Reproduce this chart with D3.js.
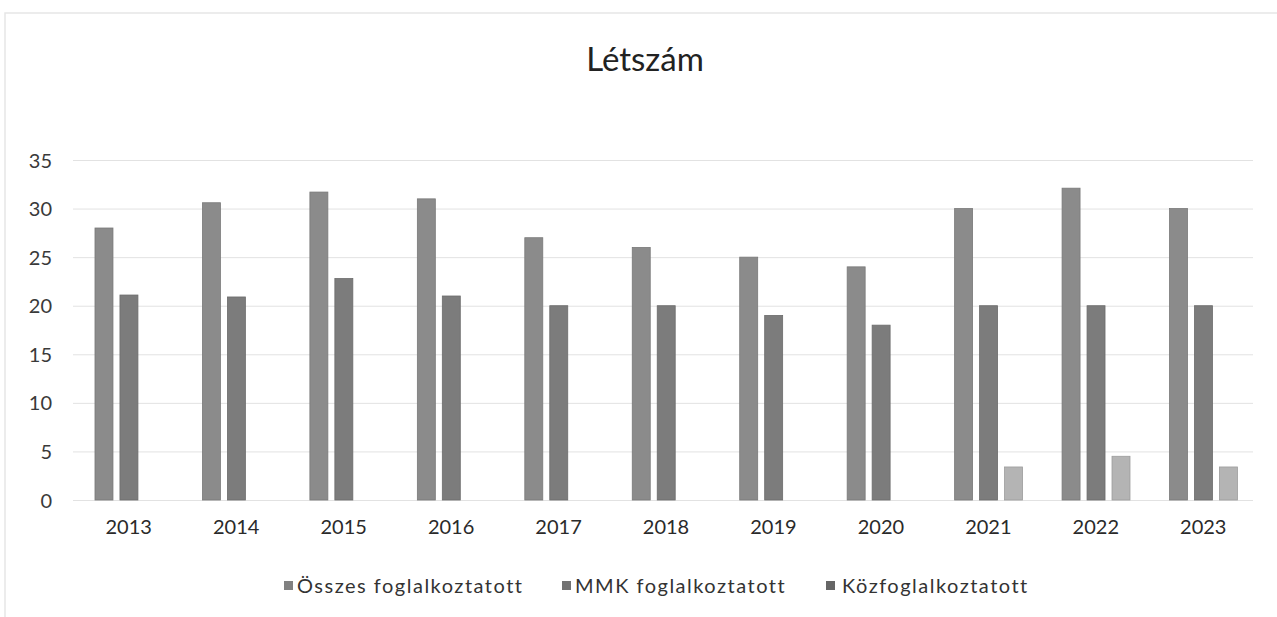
<!DOCTYPE html>
<html>
<head>
<meta charset="utf-8">
<script src="https://cdn.jsdelivr.net/npm/d3@7"></script>
<style>
	html, body { margin: 0; padding: 0; background: #fff; }
	svg { display: block; font-family: Lato, Carlito, 'Open Sans', sans-serif; }
	.tick_y { stroke: #e2e2e2; stroke-width: 1; }
	.tick_txt { fill: #3a3a3a; font-size: 20px; }
	.x_txt { fill: #2a2a2a; font-size: 20px; }
	.legend_txt { fill: #333; font-size: 20px; letter-spacing: 1.5px; }
</style>
</head>
<body>
<div id="chart"></div>
<script>
const years = ['2013', '2014', '2015', '2016', '2017', '2018', '2019', '2020', '2021', '2022', '2023'];
const seriesNames = ['Összes foglalkoztatott', 'MMK foglalkoztatott', 'Közfoglalkoztatott'];
const osszes = [28, 30.6, 31.7, 31, 27, 26, 25, 24, 30, 32.1, 30];
const mmk = [21.1, 20.9, 22.8, 21, 20, 20, 19, 18, 20, 20, 20];
const kozfog = [0, 0, 0, 0, 0, 0, 0, 0, 3.4, 4.5, 3.4];
const yTicks = [0, 5, 10, 15, 20, 25, 30, 35];
const seriesColors = ['#8b8b8b', '#7c7c7c', '#b4b4b4'];

const options = {
	w: 1277,
	h: 617,
	plotLeft: 75,
	plotRight: 1257,
	plotTop: 160,
	plotBottom: 500
};

const rows = years.map((y, i) => ({ year: y, values: [osszes[i], mmk[i], kozfog[i]] }));

const svg = d3.select('#chart').append('svg')
	.attr('width', options.w)
	.attr('height', options.h);

// chart frame (faint, scanned)
svg.append('path')
	.attr('d', `M5,${options.h} L5,13 L${options.w},13`)
	.attr('fill', 'none')
	.attr('stroke', '#e6e6e6')
	.attr('stroke-width', 1.5);

// title
svg.append('text')
	.attr('x', 645)
	.attr('y', 71)
	.attr('text-anchor', 'middle')
	.attr('fill', '#222')
	.style('font-size', '33px')
	.text('Létszám');

const x = d3.scaleBand().domain(years).range([options.plotLeft, options.plotRight]).padding(0);
const xs = d3.scaleBand().domain(d3.range(3))
	.range([x.bandwidth() * 0.186, x.bandwidth() * 0.818])
	.paddingInner(0.28).paddingOuter(0);
const y = d3.scaleLinear().domain([0, 35]).range([options.plotBottom, options.plotTop]);

// y axis with grid
const yAxis = d3.axisLeft(y).tickValues(yTicks).tickSize(-(options.plotRight - options.plotLeft - 2)).tickPadding(0);
svg.append('g')
	.attr('transform', `translate(${options.plotLeft - 2},0)`)
	.call(g => {
		g.call(yAxis);
		g.attr('font-family', null).attr('font-size', null);
		g.select('.domain').remove();
		g.selectAll('.tick line').classed('tick_y', true).attr('stroke', null);
		g.selectAll('.tick text')
			.classed('tick_txt', true)
			.attr('fill', null)
			.attr('x', -21)
			.attr('dy', '0.35em');
	});

// x axis labels
const xAxis = d3.axisBottom(x).tickSize(0).tickPadding(0);
svg.append('g')
	.attr('transform', `translate(0,${options.plotBottom})`)
	.call(g => {
		g.call(xAxis);
		g.attr('font-family', null).attr('font-size', null);
		g.select('.domain').remove();
		g.selectAll('text')
			.classed('x_txt', true)
			.attr('fill', null)
			.attr('y', 20)
			.attr('dy', '0.71em');
	});

// bars
const groups = svg.append('g').selectAll('g')
	.data(rows)
	.enter()
	.append('g')
	.attr('transform', d => `translate(${x(d.year)},0)`);

groups.selectAll('rect')
	.data(d => d.values.map((v, i) => ({ v, i })).filter(e => e.v > 0))
	.enter()
	.append('rect')
	.attr('x', d => xs(d.i))
	.attr('y', d => y(d.v))
	.attr('width', xs.bandwidth())
	.attr('height', d => y(0) - y(d.v))
	.attr('fill', d => seriesColors[d.i])
	.attr('stroke', d => d3.color(seriesColors[d.i]).darker(0.4))
	.attr('stroke-width', 0.8);

// legend
const legendX = [284, 562, 826];
const legend = svg.append('g').selectAll('g')
	.data(seriesNames)
	.enter()
	.append('g')
	.attr('transform', (d, i) => `translate(${legendX[i]},586)`);
legend.append('rect')
	.attr('x', 0).attr('y', -5)
	.attr('width', 9).attr('height', 9)
	.attr('fill', (d, i) => d3.color(seriesColors[i]).darker(i === 2 ? 1.6 : 0.2));
legend.append('text')
	.classed('legend_txt', true)
	.attr('x', (d, i) => i === 2 ? 16 : 13)
	.attr('dy', '0.35em')
	.text(d => d);
</script>
</body>
</html>
